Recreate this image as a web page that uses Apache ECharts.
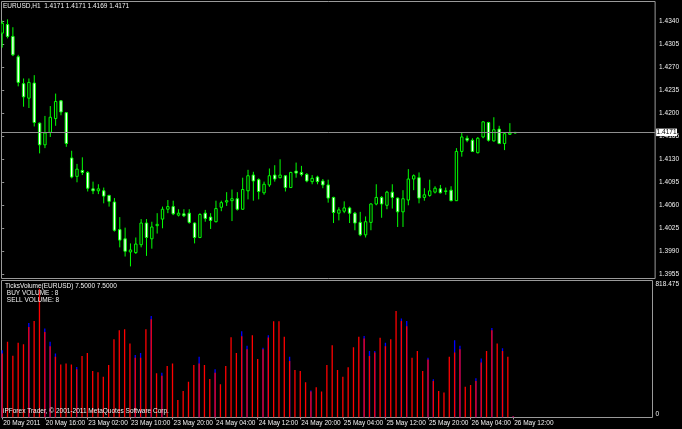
<!DOCTYPE html>
<html><head><meta charset="utf-8">
<script src="https://cdn.jsdelivr.net/npm/echarts@6/dist/echarts.min.js"></script>
<style>html,body{margin:0;padding:0;background:#000;}#c{width:682px;height:429px;}</style>
</head><body><div id="c"></div>
<script>
// ---- data ----
const symbolTitle = 'EURUSD,H1  1.4171 1.4171 1.4169 1.4171';
const indicatorTitle = 'TicksVolume(EURUSD) 7.5000 7.5000';
const indicatorLines = ['BUY VOLUME : 8', 'SELL VOLUME: 8'];
const copyrightText = 'iPForex Trader, \u00a9 2001-2011 MetaQuotes Software Corp.';

const timeLabels = ['20 May 2011','20 May 16:00','23 May 02:00','23 May 10:00','23 May 20:00','24 May 04:00','24 May 12:00','24 May 20:00','25 May 04:00','25 May 12:00','25 May 20:00','26 May 04:00','26 May 12:00'];
const timeTickBars = [0,8,16,24,32,40,48,56,64,72,80,88,96];
const priceTicks = [1.3955,1.3990,1.4025,1.4060,1.4095,1.4130,1.4165,1.4200,1.4235,1.4270,1.4305,1.4340];
const volumeTicks = [0, 818.475];
const lastPrice = 1.4171;

const open = [1.4322,1.4335,1.4317,1.4286,1.4245,1.4223,1.4246,1.4185,1.4152,1.4171,1.4192,1.4219,1.4201,1.4132,1.4104,1.4113,1.4110,1.4085,1.4082,1.4082,1.4075,1.4065,1.4023,1.4009,1.3989,1.3988,1.4000,1.4033,1.4009,1.4029,1.4039,1.4054,1.4058,1.4045,1.4047,1.4048,1.4033,1.4011,1.4048,1.4042,1.4035,1.4057,1.4065,1.4067,1.4070,1.4054,1.4082,1.4106,1.4099,1.4079,1.4091,1.4106,1.4102,1.4105,1.4087,1.4112,1.4110,1.4107,1.4096,1.4103,1.4097,1.4091,1.4072,1.4048,1.4051,1.4056,1.4048,1.4034,1.4015,1.4034,1.4062,1.4072,1.4060,1.4080,1.4071,1.4050,1.4068,1.4100,1.4102,1.4072,1.4075,1.4080,1.4085,1.4081,1.4083,1.4067,1.4142,1.4162,1.4159,1.4140,1.4164,1.4186,1.4158,1.4176,1.4154,1.4168,1.4171];
const high = [1.4341,1.4343,1.4331,1.4289,1.4253,1.4253,1.4258,1.4186,1.4196,1.4211,1.4230,1.4220,1.4202,1.4143,1.4123,1.4133,1.4112,1.4096,1.4092,1.4087,1.4076,1.4071,1.4042,1.4026,1.4002,1.4011,1.4039,1.4039,1.4035,1.4048,1.4058,1.4068,1.4067,1.4054,1.4054,1.4054,1.4034,1.4048,1.4053,1.4048,1.4067,1.4067,1.4080,1.4084,1.4080,1.4102,1.4114,1.4111,1.4101,1.4096,1.4116,1.4121,1.4130,1.4105,1.4111,1.4125,1.4120,1.4109,1.4106,1.4105,1.4100,1.4099,1.4073,1.4057,1.4066,1.4058,1.4050,1.4050,1.4043,1.4063,1.4092,1.4074,1.4082,1.4092,1.4072,1.4083,1.4115,1.4107,1.4110,1.4086,1.4099,1.4089,1.4091,1.4087,1.4089,1.4147,1.4171,1.4166,1.4162,1.4164,1.4188,1.4187,1.4194,1.4181,1.4171,1.4185,1.4171];
const low = [1.4300,1.4314,1.4287,1.4241,1.4210,1.4208,1.4180,1.4139,1.4147,1.4164,1.4181,1.4197,1.4149,1.4101,1.4095,1.4106,1.4081,1.4077,1.4077,1.4063,1.4058,1.4020,1.3996,1.3982,1.3967,1.3986,1.3996,1.3983,1.3994,1.4017,1.4025,1.4048,1.4045,1.4043,1.4042,1.4032,1.4002,1.4010,1.4035,1.4024,1.4034,1.4051,1.4059,1.4036,1.4052,1.4053,1.4069,1.4067,1.4069,1.4076,1.4088,1.4096,1.4101,1.4081,1.4087,1.4102,1.4104,1.4095,1.4092,1.4092,1.4086,1.4064,1.4033,1.4037,1.4048,1.4033,1.4022,1.4013,1.4011,1.4022,1.4060,1.4041,1.4054,1.4055,1.4027,1.4027,1.4060,1.4083,1.4063,1.4067,1.4073,1.4078,1.4078,1.4076,1.4066,1.4067,1.4134,1.4156,1.4141,1.4139,1.4162,1.4157,1.4157,1.4153,1.4144,1.4167,1.4169];
const close = [1.4337,1.4317,1.4289,1.4247,1.4225,1.4247,1.4186,1.4152,1.4170,1.4194,1.4218,1.4202,1.4154,1.4103,1.4115,1.4110,1.4086,1.4082,1.4085,1.4074,1.4066,1.4022,1.4007,1.3990,1.3992,1.4001,1.4033,1.4011,1.4027,1.4031,1.4054,1.4058,1.4047,1.4048,1.4044,1.4034,1.4011,1.4046,1.4040,1.4037,1.4055,1.4064,1.4067,1.4070,1.4054,1.4084,1.4105,1.4097,1.4081,1.4092,1.4105,1.4100,1.4106,1.4087,1.4110,1.4109,1.4107,1.4097,1.4101,1.4096,1.4091,1.4071,1.4049,1.4053,1.4056,1.4048,1.4033,1.4015,1.4035,1.4062,1.4072,1.4062,1.4080,1.4072,1.4050,1.4070,1.4100,1.4105,1.4071,1.4076,1.4082,1.4086,1.4079,1.4082,1.4067,1.4142,1.4164,1.4159,1.4142,1.4162,1.4187,1.4159,1.4175,1.4154,1.4169,1.4170,1.4171];

const sellVolume = [383,452,369,446,438,541,577,769,511,426,363,317,323,317,288,367,386,278,270,244,313,468,521,527,442,357,357,527,587,264,250,307,323,105,159,214,313,323,313,230,268,199,307,480,386,486,408,492,349,407,478,575,575,482,337,284,278,210,155,181,155,313,432,284,244,300,419,482,472,367,389,476,426,468,636,577,545,357,398,278,347,218,159,149,363,389,408,184,194,218,329,397,521,442,398,363,8];
const buyVolume = [402,null,null,null,null,565,null,null,531,452,383,null,null,null,301,null,null,null,null,null,null,null,null,null,null,373,386,null,606,null,268,null,null,null,null,null,null,363,null,null,288,null,null,null,null,515,428,null,null,416,492,null,null,null,363,null,null,null,161,null,null,null,null,null,null,null,null,null,487,397,398,null,446,null,null,591,577,null,null,null,357,228,null,null,null,462,428,null,null,234,353,null,535,null,413,null,8];

// ---- layout constants ----
const FONT = 'Liberation Sans';
const TXT = '#f2f2f2';
const FRAME = '#9a9a9a';
const xMin = -0.131, xMax = 122.18;
const priceMin = 1.394859, priceMax = 1.437014;
const volMax = 818.475;

const candleData = open.map((o, i) => [i, o, high[i], low[i], close[i]]);
const sellData = sellVolume.map((v, i) => [i, v]);
const buyData = buyVolume.map((v, i) => [i, v]).filter(d => d[1] != null);

function renderCandle(params, api) {
  const i = api.value(0), o = api.value(1), h = api.value(2), l = api.value(3), c = api.value(4);
  const ph = api.coord([i, h]), pl = api.coord([i, l]);
  const po = api.coord([i, o]), pc = api.coord([i, c]);
  const x = ph[0];
  const top = Math.min(po[1], pc[1]);
  const hgt = Math.max(Math.abs(po[1] - pc[1]), 0.6);
  const rising = c > o;
  return { type: 'group', children: [
    { type: 'line', shape: { x1: x, y1: ph[1], x2: x, y2: pl[1] }, style: { stroke: '#00ff00', lineWidth: 1 } },
    { type: 'rect', shape: { x: x - 1.2, y: top, width: 2.4, height: hgt },
      style: { fill: rising ? '#000000' : '#ffffff', stroke: '#00ff00', lineWidth: 1 } }
  ]};
}
function volRenderer(color) {
  return function (params, api) {
    const i = api.value(0), v = api.value(1);
    const p1 = api.coord([i, v]), p0 = api.coord([i, 0]);
    return { type: 'rect', shape: { x: p1[0] - 0.65, y: p1[1], width: 1.3, height: p0[1] - p1[1] }, style: { fill: color } };
  };
}

const chart = echarts.init(document.getElementById('c'), null, { renderer: 'canvas' });
const lbl = { fontFamily: FONT, fontSize: 6.5, color: TXT };
chart.setOption({
  backgroundColor: '#000000',
  animation: false,
  title: [
    { text: symbolTitle, left: 3, top: 2.7, padding: 0, textStyle: Object.assign({ fontWeight: 'normal', lineHeight: 8 }, lbl) },
    { text: [indicatorTitle].concat(indicatorLines.map(s => ' ' + s)).join('\n'), left: 5, top: 283.2, padding: 0,
      textStyle: Object.assign({ fontWeight: 'normal', lineHeight: 7 }, lbl) },
    { text: copyrightText, left: 3, top: 407.7, padding: 0, textStyle: Object.assign({ fontWeight: 'normal', lineHeight: 8 }, lbl) }
  ],
  grid: [
    { left: 1.5, top: 1.5, width: 655, height: 277, show: true, borderColor: FRAME, borderWidth: 1, backgroundColor: 'transparent' },
    { left: 1.5, top: 280.5, width: 655, height: 137, show: true, borderColor: FRAME, borderWidth: 1, backgroundColor: 'transparent' }
  ],
  xAxis: [
    { type: 'value', gridIndex: 0, min: xMin, max: xMax, show: false },
    { type: 'value', gridIndex: 1, min: xMin, max: xMax,
      axisLine: { show: false }, splitLine: { show: false },
      axisTick: { show: true, customValues: timeTickBars, length: 2, lineStyle: { color: FRAME } },
      axisLabel: Object.assign({ customValues: timeTickBars, margin: 2, align: 'left', padding: [0, 0, 0, 1],
        formatter: v => timeLabels[Math.round(v / 8)] }, lbl) }
  ],
  yAxis: [
    { type: 'value', gridIndex: 0, position: 'right', min: priceMin, max: priceMax,
      axisLine: { show: false }, splitLine: { show: false },
      axisTick: { show: true, customValues: priceTicks, length: 2, lineStyle: { color: FRAME } },
      axisLabel: Object.assign({ customValues: priceTicks, margin: 4, formatter: v => v.toFixed(4) }, lbl) },
    { type: 'value', gridIndex: 1, position: 'right', min: 0, max: volMax,
      axisLine: { show: false }, splitLine: { show: false }, axisTick: { show: false },
      axisLabel: Object.assign({ customValues: volumeTicks, margin: 3, formatter: v => String(v),
        verticalAlignMinLabel: 'bottom', verticalAlignMaxLabel: 'top' }, lbl) }
  ],
  series: [
    { type: 'custom', name: 'EURUSD', xAxisIndex: 0, yAxisIndex: 0, data: candleData, clip: true,
      encode: { x: 0, y: [1, 2, 3, 4] }, renderItem: renderCandle, silent: true,
      markLine: { silent: true, symbol: ['none', 'none'], animation: false, precision: 4,
        lineStyle: { color: '#8f8f8f', width: 1, type: 'solid' },
        label: { show: true, position: 'end', distance: 1, formatter: lastPrice.toFixed(4),
          backgroundColor: '#ffffff', color: '#000000', padding: [0.5, 0.5, 0, 0.5], fontFamily: FONT, fontSize: 6.5 },
        emphasis: { disabled: true },
        data: [{ yAxis: lastPrice }] } },
    { type: 'custom', name: 'BUY VOLUME', xAxisIndex: 1, yAxisIndex: 1, data: buyData, clip: true,
      encode: { x: 0, y: 1 }, renderItem: volRenderer('#0000ff'), silent: true },
    { type: 'custom', name: 'SELL VOLUME', xAxisIndex: 1, yAxisIndex: 1, data: sellData, clip: true,
      encode: { x: 0, y: 1 }, renderItem: volRenderer('#ff0000'), silent: true }
  ]
});
</script></body></html>
